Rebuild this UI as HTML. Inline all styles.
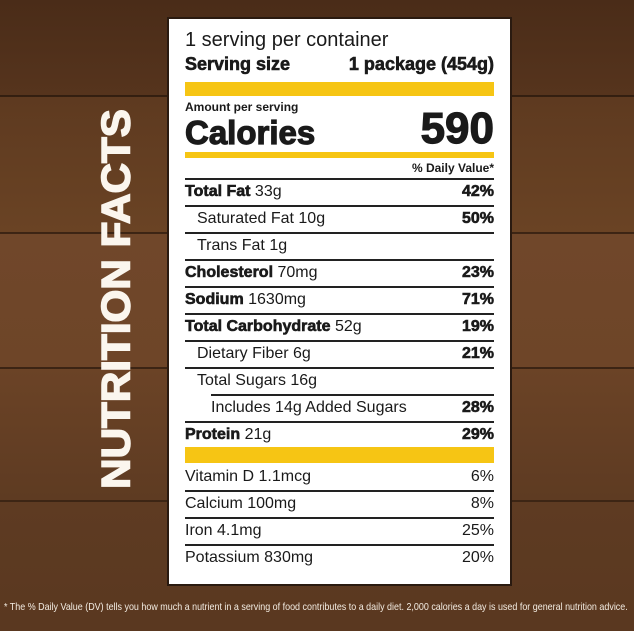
<!DOCTYPE html>
<html><head><meta charset="utf-8"><style>
body{margin:0;width:634px;height:631px;overflow:hidden;position:relative;font-family:"Liberation Sans",sans-serif;
background:
linear-gradient(180deg,rgba(0,0,0,0) 0,rgba(0,0,0,0) 95px,rgba(20,10,4,.55) 95px,rgba(20,10,4,.55) 97px,rgba(0,0,0,0) 97px,rgba(0,0,0,0) 232px,rgba(20,10,4,.55) 232px,rgba(20,10,4,.55) 234px,rgba(0,0,0,0) 234px,rgba(0,0,0,0) 367px,rgba(20,10,4,.55) 367px,rgba(20,10,4,.55) 369px,rgba(0,0,0,0) 369px,rgba(0,0,0,0) 500px,rgba(20,10,4,.45) 500px,rgba(20,10,4,.45) 502px,rgba(0,0,0,0) 502px),
linear-gradient(180deg,#4a2c18 0,#56341d 95px,#5e3a20 97px,#6a4324 232px,#70472a 234px,#6e4528 367px,#6b4326 369px,#5e3b22 500px,#5a3820 631px);}
.lab{position:absolute;left:169px;top:19px;width:341px;height:565px;background:#fff;box-shadow:0 0 0 2px #2a1a10;}
.t{position:absolute;white-space:nowrap;color:#1a1a1a;line-height:1}
.r{position:absolute;right:16px;white-space:nowrap;color:#1a1a1a;line-height:1;font-size:16px}
.b{font-weight:bold}
.y{position:absolute;left:16px;width:309px;background:#f6c514}
.ln{position:absolute;left:16px;width:309px;height:1.5px;background:#222}
.vt{position:absolute;left:117px;top:299px;transform:translate(-50%,-50%) rotate(-90deg) scaleX(1.055);color:#fbf6ee;font-weight:bold;font-size:40px;letter-spacing:0px;white-space:nowrap;-webkit-text-stroke:1.5px #fbf6ee}
.ft{position:absolute;left:4px;top:601px;color:#f3ece2;font-size:10.5px;white-space:nowrap;transform-origin:0 0;transform:scaleX(.852)}
.k{-webkit-text-stroke:0.6px #1a1a1a}
</style></head><body>
<div class="vt">NUTRITION FACTS</div>
<div class="lab">
<div class="t" style="left:16px;top:11px;font-size:20px">1 serving per container</div>
<div class="t b k" style="left:16px;top:36px;font-size:18px">Serving size</div>
<div class="r b k" style="top:36px;font-size:18px">1 package (454g)</div>
<div class="y" style="top:63px;height:14px"></div>
<div class="t b" style="left:16px;top:82px;font-size:12px">Amount per serving</div>
<div class="t b k" style="left:16px;top:97px;font-size:33px;-webkit-text-stroke:1.2px #1a1a1a">Calories</div>
<div class="r b" style="top:88px;font-size:44px;-webkit-text-stroke:1.2px #1a1a1a">590</div>
<div class="y" style="top:133px;height:6px"></div>
<div class="r b" style="top:143px;font-size:12px">% Daily Value*</div>
<div class="ln" style="top:159px"></div>

<div class="t" style="left:16px;top:165px;font-size:16px"><b class="k">Total Fat</b> 33g</div><div class="r b k" style="top:165px">42%</div>
<div class="ln" style="top:186px"></div>
<div class="t" style="left:28px;top:192px;font-size:16px">Saturated Fat 10g</div><div class="r b k" style="top:192px">50%</div>
<div class="ln" style="top:213px"></div>
<div class="t" style="left:28px;top:219px;font-size:16px">Trans Fat 1g</div>
<div class="ln" style="top:240px"></div>
<div class="t" style="left:16px;top:246px;font-size:16px"><b class="k">Cholesterol</b> 70mg</div><div class="r b k" style="top:246px">23%</div>
<div class="ln" style="top:267px"></div>
<div class="t" style="left:16px;top:273px;font-size:16px"><b class="k">Sodium</b> 1630mg</div><div class="r b k" style="top:273px">71%</div>
<div class="ln" style="top:294px"></div>
<div class="t" style="left:16px;top:300px;font-size:16px"><b class="k">Total Carbohydrate</b> 52g</div><div class="r b k" style="top:300px">19%</div>
<div class="ln" style="top:321px"></div>
<div class="t" style="left:28px;top:327px;font-size:16px">Dietary Fiber 6g</div><div class="r b k" style="top:327px">21%</div>
<div class="ln" style="top:348px"></div>
<div class="t" style="left:28px;top:354px;font-size:16px">Total Sugars 16g</div>
<div class="ln" style="top:375px;left:42px;width:283px"></div>
<div class="t" style="left:42px;top:381px;font-size:16px">Includes 14g Added Sugars</div><div class="r b k" style="top:381px">28%</div>
<div class="ln" style="top:402px"></div>
<div class="t" style="left:16px;top:408px;font-size:16px"><b class="k">Protein</b> 21g</div><div class="r b k" style="top:408px">29%</div>
<div class="y" style="top:428px;height:16px"></div>
<div class="t" style="left:16px;top:450px;font-size:16px">Vitamin D 1.1mcg</div><div class="r" style="top:450px">6%</div>
<div class="ln" style="top:471px"></div>
<div class="t" style="left:16px;top:477px;font-size:16px">Calcium 100mg</div><div class="r" style="top:477px">8%</div>
<div class="ln" style="top:498px"></div>
<div class="t" style="left:16px;top:504px;font-size:16px">Iron 4.1mg</div><div class="r" style="top:504px">25%</div>
<div class="ln" style="top:525px"></div>
<div class="t" style="left:16px;top:531px;font-size:16px">Potassium 830mg</div><div class="r" style="top:531px">20%</div>
</div>
<div class="ft">* The % Daily Value (DV) tells you how much a nutrient in a serving of food contributes to a daily diet. 2,000 calories a day is used for general nutrition advice.</div>
</body></html>
